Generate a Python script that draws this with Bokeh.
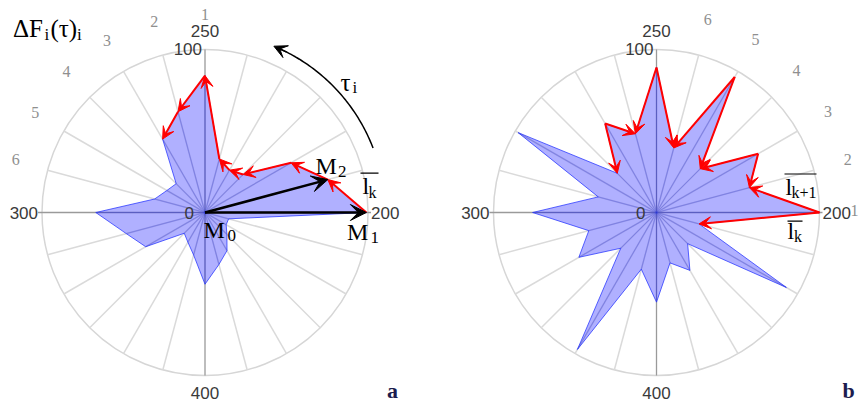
import numpy as np
from bokeh.plotting import figure
from bokeh.models import Range1d, Arrow, VeeHead, ColumnDataSource
from bokeh.embed import file_html
from bokeh.resources import INLINE
from bokeh.core.properties import value

# Step angles in degrees, counter-clockwise starting from the "200" spoke
angles_deg = list(range(0, 360, 15))

# Force increments ΔF_i(τ)_i, in percent of the outer ring (100)
series_a = [99, 78, 61, 33, 30, 34, 84, 64, 52, 25, 27, 32,
            67, 50, 42, 18, 21, 27, 44, 33, 27, 19, 15, 15]
series_b = [100, 59, 72, 38, 96, 41, 89, 50, 63, 34, 98, 37,
            76, 43, 55, 31, 97, 36, 55, 32, 41, 27, 92, 27]

# Red path segments (from step index, to step index)
steps_a = [(0, 1), (1, 2), (2, 3), (3, 4), (4, 5), (5, 6), (6, 7), (7, 8)]
steps_b = [(0, 23), (0, 1), (2, 1), (2, 3), (4, 3), (4, 5), (6, 5),
           (6, 7), (8, 7), (8, 9)]

ring_labels = ["250", "100", "200", "300", "400", "0"]
step_numbers = ["1", "2", "3", "4", "5", "6"]

W, H = 860, 403
R = 163.0           # pixel radius of the 100 ring
K = R / 100.0

SERIF = value("Liberation Serif")
SANS = value("Liberation Sans")

p = figure(width=W, height=H, x_range=Range1d(0, W), y_range=Range1d(0, H),
           output_backend="svg", toolbar_location=None, min_border=0,
           x_axis_location=None, y_axis_location=None)
p.grid.visible = False
p.outline_line_color = None
p.background_fill_color = "white"
p.border_fill_color = "white"


def txt(x, y, s, size, font=SERIF, color="black", align="left",
        baseline="alphabetic", style="normal"):
    if baseline == "alphabetic":
        # the svg text sits lower than the nominal baseline; lift it back
        y = y + 0.34 * float(size.replace("px", ""))
    p.text(x=[x], y=[y], text=[s], text_font=font, text_font_size=size,
           text_color=color, text_align=align, text_baseline=baseline,
           text_font_style=style)


def polar(cx, cy, v, a):
    t = np.deg2rad(a)
    return cx + v * K * np.cos(t), cy + v * K * np.sin(t)


def radar(cx, cy, vals, steps, num_start, num_r):
    # grid: ring, light spokes, darker main axes
    p.circle(x=[cx], y=[cy], radius=R, fill_color=None,
             line_color="#d6d6d6", line_width=1.5)
    light = [a for a in angles_deg if a % 90 != 0]
    la = np.deg2rad(light)
    p.segment(x0=[cx] * len(light), y0=[cy] * len(light),
              x1=list(cx + R * np.cos(la)), y1=list(cy + R * np.sin(la)),
              line_color="#dadada", line_width=1.5)
    p.segment(x0=[cx - R - 4, cx], y0=[cy, cy - R],
              x1=[cx + R + 3, cx], y1=[cy, cy + R],
              line_color="#9a9a9a", line_width=1.3)

    xs, ys = polar(cx, cy, np.array(vals, dtype=float), np.array(angles_deg))
    p.patch(x=list(xs), y=list(ys), fill_color="#0000ff", fill_alpha=0.31,
            line_color="#2433ff", line_alpha=0.75, line_width=1)
    p.segment(x0=[cx] * len(xs), y0=[cy] * len(xs), x1=list(xs), y1=list(ys),
              line_color="#2a36e0", line_alpha=0.22, line_width=1)

    src = ColumnDataSource(dict(
        x0=[xs[i] for i, j in steps], y0=[ys[i] for i, j in steps],
        x1=[xs[j] for i, j in steps], y1=[ys[j] for i, j in steps]))
    p.add_layout(Arrow(end=VeeHead(size=12, fill_color="#ff0000",
                                   line_color="#ff0000", line_width=1),
                       x_start="x0", y_start="y0", x_end="x1", y_end="y1",
                       source=src, line_color="#ff0000", line_width=2))

    # ring value labels
    txt(cx, cy + 175.5, ring_labels[0], "17px", SANS, "#3a3a3a", "center")
    txt(cx - 3, cy + 157.5, ring_labels[1], "17px", SANS, "#3a3a3a", "right")
    txt(cx + 166, cy - 6, ring_labels[2], "17px", SANS, "#3a3a3a", "left")
    txt(cx - 167, cy - 6, ring_labels[3], "17px", SANS, "#3a3a3a", "right")
    txt(cx, cy - 186.5, ring_labels[4], "17px", SANS, "#3a3a3a", "center")
    txt(cx - 11, cy - 6, ring_labels[5], "17px", SANS, "#3a3a3a", "right")

    # step numbers around the ring
    for n, s in enumerate(step_numbers):
        t = np.deg2rad(num_start + 15 * n)
        txt(cx + num_r * np.cos(t), cy + num_r * np.sin(t) + 2, s, "16px",
            SERIF, "#8f8f8f", "center", "middle")
    return xs, ys


# ---- chart a ----
cxa, cya = 204.5, 191.0
xa, ya = radar(cxa, cya, series_a, steps_a, 90, 196)

black = ColumnDataSource(dict(x0=[cxa, cxa], y0=[cya, cya],
                              x1=[xa[0], xa[1]], y1=[ya[0], ya[1]]))
p.add_layout(Arrow(end=VeeHead(size=16, fill_color="black",
                               line_color="black", line_width=1),
                   x_start="x0", y_start="y0", x_end="x1", y_end="y1",
                   source=black, line_color="black", line_width=2.5))

# rotation direction arc τ_i
arc_t = np.deg2rad(np.linspace(21, 66, 60))
ra = 180.0
p.line(x=list(cxa + ra * np.cos(arc_t)), y=list(cya + ra * np.sin(arc_t)),
       line_color="black", line_width=1.5)
t1, t2 = np.deg2rad(63), np.deg2rad(67.5)
p.add_layout(Arrow(end=VeeHead(size=13, fill_color="black",
                               line_color="black", line_width=1),
                   x_start=cxa + ra * np.cos(t1), y_start=cya + ra * np.sin(t1),
                   x_end=cxa + ra * np.cos(t2), y_end=cya + ra * np.sin(t2),
                   line_color="black", line_width=1.5))

# labels of chart a
txt(12.5, H - 36.7, "ΔF", "25px")
txt(44.0, H - 40.0, "i", "17px")
txt(50.0, H - 36.7, "(τ)", "25px")
txt(76.5, H - 40.0, "i", "17px")

txt(340.0, H - 90.0, "τ", "25px")
txt(352.0, H - 93.0, "i", "17px")

txt(315.0, H - 174.0, "M", "24px")
txt(337.5, H - 177.0, "2", "17px")
txt(203.0, H - 238.0, "M", "24px")
txt(227.0, H - 241.0, "0", "17px")
txt(346.5, H - 240.0, "M", "24px")
txt(370.0, H - 243.0, "1", "17px")

txt(362.0, H - 193.5, "l", "24px")
txt(368.0, H - 197.0, "k", "16px")
p.segment(x0=[360], y0=[H - 172.7], x1=[378], y1=[H - 172.7],
          line_color="black", line_width=1.2)

txt(386.5, H - 397.5, "a", "22px", color="#1c1c4e", style="bold")

# ---- chart b ----
cxb, cyb = 656.0, 191.0
xb, yb = radar(cxb, cyb, series_b, steps_b, 0, 198)

txt(785.0, H - 195.0, "l", "24px")
txt(791.0, H - 197.5, "k+1", "16px")
p.segment(x0=[784], y0=[H - 173.5], x1=[816], y1=[H - 173.5],
          line_color="black", line_width=1.2)

txt(787.0, H - 238.5, "l", "24px")
txt(793.5, H - 241.5, "k", "16px")
p.segment(x0=[787], y0=[H - 220.7], x1=[802], y1=[H - 220.7],
          line_color="black", line_width=1.2)

txt(842.0, H - 397.5, "b", "22px", color="#1c1c4e", style="bold")

open("out.html", "w").write(file_html(p, INLINE))
